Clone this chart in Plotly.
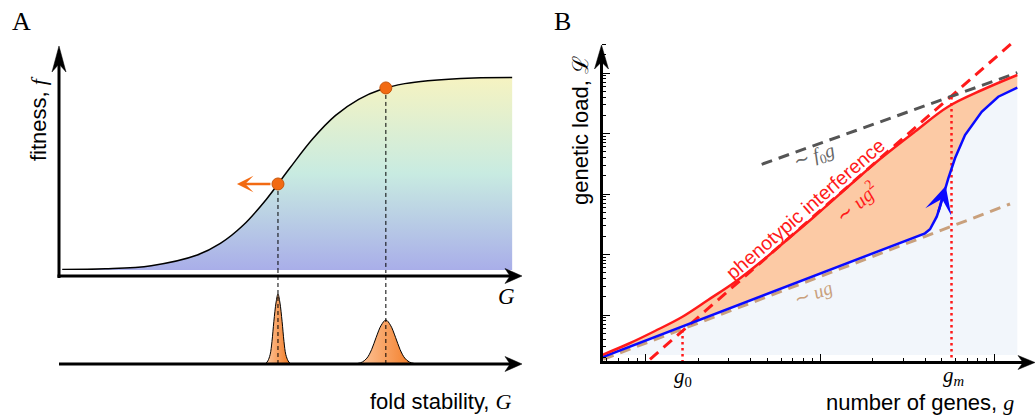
import numpy as np
import plotly.graph_objects as go

W, H = 1035, 417

# ---------------- Panel A data (schematic) ----------------
G_curve = [0.07, 1, 2, 3, 3.5, 4, 4.5, 5, 5.5, 6, 6.5, 7, 7.5, 8, 9, 9.83]
f_curve = [0.002, 0.005, 0.019, 0.066, 0.117, 0.198, 0.312, 0.447, 0.577,
           0.681, 0.752, 0.796, 0.821, 0.834, 0.846, 0.848]
G_points = [4.75, 7.09]
f_points = [0.379, 0.802]
G_arrow_tip = 3.86

narrow_G = [4.49, 4.53, 4.58, 4.62, 4.66, 4.71, 4.75, 4.79, 4.84, 4.88, 4.92, 4.97, 5.01]
narrow_d = [0.008, 0.033, 0.10, 0.24, 0.45, 0.66, 0.745, 0.66, 0.45, 0.24, 0.10, 0.033, 0.008]
wide_G = [6.47, 6.58, 6.68, 6.78, 6.88, 6.99, 7.09, 7.19, 7.30, 7.40, 7.50, 7.60, 7.71]
wide_d = [0.005, 0.021, 0.063, 0.152, 0.284, 0.413, 0.468, 0.413, 0.284, 0.152, 0.063, 0.021, 0.005]

# ---------------- Panel B data ----------------
blue_g = [5.634, 399.6, 426.9, 445.9, 466.5, 487.3, 508.9, 543.5, 593.7, 677.6, 844.6, 1051, 1351]
blue_L = [0.200, 22.4, 26.1, 32.8, 42.2, 61.7, 96.3, 181.8, 389.1, 944, 2291, 4055, 5715]
red_g = [5.634, 7.936, 11.33, 16.19, 22.82, 32.58, 46.51, 65.55, 93.61, 148.5, 220.8, 350.3, 541.5, 848.1, 1351]
red_L = [0.2183, 0.3316, 0.5438, 0.9269, 1.770, 3.512, 7.807, 18.04, 43.29, 140.8, 378.8, 1079, 2773, 5236, 9268]
base_g = [5.61, 1351]
base_L = [0.2183, 0.2183]
ug_g = [5.731, 1227]
ug_L = [0.1853, 68.35]
ug2_g = [10.61, 1255]
ug2_L = [0.1853, 30970]
f0g_g = [46.33, 1351]
f0g_L = [309.7, 10116]
mark_g = [16.3, 567.0]
mark_L = [0.565, 4010]
blue_arrow_g = [474.0, 525.2]
blue_arrow_L = [48.0, 135.6]

yA_range = [0, 1.0]
xB_range = [0.7507, 3.232]
yB_range = [-0.7769, 4.496]

SANS = "Liberation Sans"
SERIF = "Liberation Serif"
RED = "#ff1a1a"
BLUE = "#0a0aff"
TAN = "#c9a07c"
GRAY = "#555555"
ORANGE = "#f26a12"


def P(x, y):
    return x / W, 1 - y / H


fig = go.Figure()

# Panel A: sigmoid with gradient fill
fig.add_trace(go.Scatter(
    x=G_curve, y=f_curve, mode="lines", xaxis="x", yaxis="y",
    line=dict(color="black", width=1.5, shape="spline"),
    fill="tozeroy",
    fillgradient=dict(type="vertical",
                      colorscale=[[0, "#a9aee9"], [0.5, "#c8ebe1"], [1, "#f6f3c1"]]),
))
# dashed guides (upper part)
dx, dy = [], []
for g, f in zip(G_points, f_points):
    dx += [g, g, None]
    dy += [f, yA_range[0], None]
fig.add_trace(go.Scatter(x=dx, y=dy, mode="lines", xaxis="x", yaxis="y",
                         line=dict(color="black", width=1, dash="4px,3px")))
# distributions
for gx, dd in ((narrow_G, narrow_d), (wide_G, wide_d)):
    fig.add_trace(go.Scatter(
        x=gx, y=dd, mode="lines", xaxis="x", yaxis="y2",
        line=dict(color="black", width=1, shape="spline"),
        fill="tozeroy",
        fillgradient=dict(type="horizontal",
                          colorscale=[[0, "#fdc79e"], [1, "#f37a22"]]),
    ))
dx2, dy2 = [], []
for g in G_points:
    dx2 += [g, g, None]
    dy2 += [0, 1, None]
fig.add_trace(go.Scatter(x=dx2, y=dy2, mode="lines", xaxis="x", yaxis="y2",
                         line=dict(color="black", width=1, dash="4px,3px")))
# points
fig.add_trace(go.Scatter(x=G_points, y=f_points, mode="markers", xaxis="x", yaxis="y",
                         marker=dict(size=12, color=ORANGE, line=dict(color="#c85408", width=1))))

# Panel B fills
fig.add_trace(go.Scatter(x=base_g, y=base_L, mode="lines", xaxis="x2", yaxis="y3",
                         line=dict(width=0, color="rgba(0,0,0,0)")))
fig.add_trace(go.Scatter(x=blue_g, y=blue_L, mode="lines", xaxis="x2", yaxis="y3",
                         line=dict(width=0, color="rgba(0,0,0,0)"),
                         fill="tonexty", fillcolor="#f2f6fb"))
fig.add_trace(go.Scatter(x=red_g, y=red_L, mode="lines", xaxis="x2", yaxis="y3",
                         line=dict(width=0, color="rgba(0,0,0,0)", shape="spline"),
                         fill="tonexty", fillcolor="#fccaa5"))
# dashed asymptotes
for gx, ly, col in ((ug_g, ug_L, TAN), (ug2_g, ug2_L, RED), (f0g_g, f0g_L, GRAY)):
    fig.add_trace(go.Scatter(x=gx, y=ly, mode="lines", xaxis="x2", yaxis="y3",
                             line=dict(color=col, width=3, dash="11px,7px")))
# dotted markers g0, gm
mx, my = [], []
for g, L in zip(mark_g, mark_L):
    mx += [g, g, None]
    my += [L, 10 ** yB_range[0], None]
fig.add_trace(go.Scatter(x=mx, y=my, mode="lines", xaxis="x2", yaxis="y3",
                         line=dict(color=RED, width=2.5, dash="2.5px,3.5px")))
# curves
fig.add_trace(go.Scatter(x=blue_g, y=blue_L, mode="lines", xaxis="x2", yaxis="y3",
                         line=dict(color=BLUE, width=2.5)))
fig.add_trace(go.Scatter(x=red_g, y=red_L, mode="lines", xaxis="x2", yaxis="y3",
                         line=dict(color=RED, width=2.5, shape="spline")))

# ---------------- axes ----------------
hidden = dict(visible=False, showgrid=False, zeroline=False)
logax = dict(type="log", showgrid=False, zeroline=False, showline=False,
             showticklabels=False, ticks="inside", ticklen=8, tickwidth=1.3,
             tickcolor="black", dtick=1,
             minor=dict(ticks="inside", ticklen=4, tickwidth=1, tickcolor="black",
                        dtick="D1", showgrid=False))
fig.update_layout(
    width=W, height=H, margin=dict(l=0, r=0, t=0, b=0),
    paper_bgcolor="white", plot_bgcolor="rgba(0,0,0,0)", showlegend=False,
    xaxis=dict(domain=[59 / W, 520 / W], range=[0, 10], anchor="y", **hidden),
    yaxis=dict(domain=[1 - 270 / H, 1 - 43 / H], range=yA_range, anchor="x", **hidden),
    yaxis2=dict(domain=[1 - 364 / H, 1 - 270 / H], range=[0, 1], anchor="x", **hidden),
    xaxis2=dict(domain=[602 / W, 1.0], range=xB_range, anchor="y3", **logax),
    yaxis3=dict(domain=[1 - 362 / H, 1 - 43 / H], range=yB_range, anchor="x2", **logax),
)

# ---------------- axis arrows (decoration) ----------------
shapes = []


def seg(x0, y0, x1, y1, w=3):
    a, b = P(x0, y0)
    c, d = P(x1, y1)
    shapes.append(dict(type="line", xref="paper", yref="paper", x0=a, y0=b, x1=c, y1=d,
                       line=dict(color="black", width=w)))


def head(tx, ty, direction, L, hw, n):
    if direction == "up":
        pts = [(tx, ty), (tx - hw, ty + L), (tx, ty + L - n), (tx + hw, ty + L)]
    else:
        pts = [(tx, ty), (tx - L, ty - hw), (tx - L + n, ty), (tx - L, ty + hw)]
    path = "M " + " L ".join("%.5f,%.5f" % P(x, y) for x, y in pts) + " Z"
    shapes.append(dict(type="path", xref="paper", yref="paper", path=path,
                       fillcolor="black", line=dict(color="black", width=0.5)))


seg(59, 278, 59, 62)
head(59, 46, "up", 26, 7, 8)
seg(57.5, 276, 512, 276)
head(522, 276, "right", 17, 7.5, 5)
seg(59, 364, 512, 364)
head(522, 364, "right", 17, 7.5, 5)
seg(601.5, 364, 601.5, 60)
head(601.5, 45, "up", 24, 7, 7)
seg(600, 362.5, 1025, 362.5)
head(1035, 362.5, "right", 17, 7, 5)
fig.update_layout(shapes=shapes)

# ---------------- annotations ----------------
ann = []


def text(x, y, t, size=20, color="black", family=SANS, angle=0):
    a, b = P(x, y)
    ann.append(dict(x=a, y=b, xref="paper", yref="paper", text=t, showarrow=False,
                    font=dict(size=size, color=color, family=family), textangle=angle,
                    xanchor="center", yanchor="middle"))


def it(s):
    return '<span style="font-family:%s"><i>%s</i></span>' % (SERIF, s)


text(21, 21, "A", 26, family=SERIF)
text(562, 21, "B", 26, family=SERIF)
text(38, 119, "fitness, " + it("f"), 22, angle=-90)
text(506, 296, "<i>G</i>", 23, family=SERIF)
text(441, 401, "fold stability, " + it("G"), 22)
text(580, 131, "genetic load, ℒ", 22, angle=-90)
text(920, 402, "number of genes, " + it("g"), 22)
text(683, 377, "<i>g</i><sub>0</sub>", 21, family=SERIF)
text(953, 376, "<i>g<sub>m</sub></i>", 21, family=SERIF)
text(805, 209, "phenotypic interference", 19.5, color=RED, angle=-41)
text(856, 202, "∼ <i>ug</i><sup>2</sup>", 20, color=RED, family=SERIF, angle=-41)
text(814, 157, "∼ <i>f</i><sub>0</sub><i>g</i>", 19, color="#666666", family=SERIF, angle=-18)
text(813, 293, "∼ <i>ug</i>", 19, color=TAN, family=SERIF, angle=-20)

# orange arrow in A
ann.append(dict(x=G_arrow_tip, y=f_points[0], xref="x", yref="y",
                ax=G_points[0], ay=f_points[0], axref="x", ayref="y",
                text="", showarrow=True, arrowhead=3, arrowwidth=2.5, arrowsize=1.1,
                arrowcolor=ORANGE, startstandoff=6))
# blue arrow head in B
ann.append(dict(x=np.log10(blue_arrow_g[1]), y=np.log10(blue_arrow_L[1]), xref="x2", yref="y3",
                ax=np.log10(blue_arrow_g[0]), ay=np.log10(blue_arrow_L[0]), axref="x2", ayref="y3",
                text="", showarrow=True, arrowhead=3, arrowwidth=2.5, arrowsize=1.8,
                arrowcolor=BLUE))
fig.update_layout(annotations=ann)

fig.write_html("out.html")
